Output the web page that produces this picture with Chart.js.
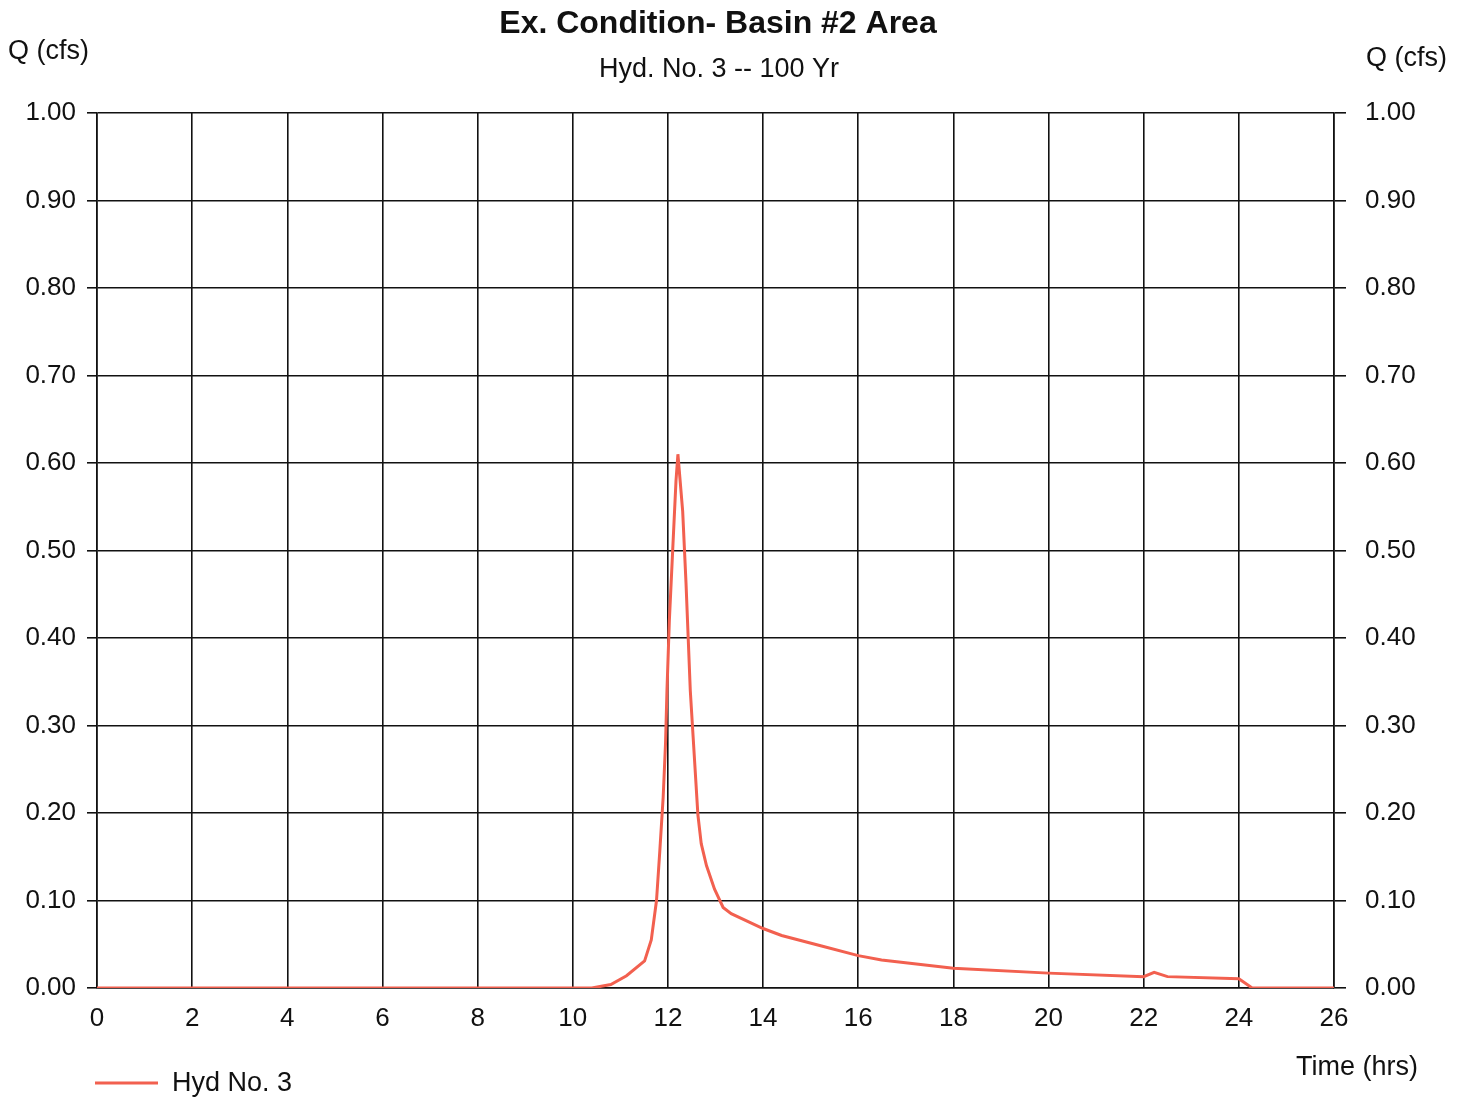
<!DOCTYPE html>
<html>
<head>
<meta charset="utf-8">
<script src="https://cdn.jsdelivr.net/npm/chart.js@4.4.0/dist/chart.umd.min.js"></script>
<style>
  html, body { margin: 0; padding: 0; background: #fff; }
  #wrap { width: 1464px; height: 1097px; position: relative; }
</style>
</head>
<body>
<div id="wrap"><canvas id="hydro"></canvas></div>
<script>
// hydrograph (hrs, cfs)
const hours = [0, 2, 4, 6, 8, 10, 10.4, 10.8, 11.13, 11.51, 11.65, 11.76, 11.83, 11.9, 11.95, 11.98,
  12.03, 12.1, 12.17, 12.21, 12.31, 12.38, 12.47, 12.56, 12.63, 12.7, 12.81, 12.98, 13.16, 13.33,
  14.0, 14.39, 15.23, 16.0, 16.49, 18.0, 20.0, 22.0, 22.22, 22.5, 24.0, 24.28, 26];
const flows = [0, 0, 0, 0, 0, 0, 0, 0.004, 0.014, 0.031, 0.055, 0.10, 0.157, 0.218, 0.28, 0.34,
  0.42, 0.50, 0.58, 0.61, 0.545, 0.463, 0.34, 0.26, 0.198, 0.165, 0.14, 0.113, 0.092, 0.085,
  0.068, 0.060, 0.048, 0.037, 0.032, 0.0225, 0.017, 0.013, 0.018, 0.013, 0.0105, 0, 0];

const xTicks = [0, 2, 4, 6, 8, 10, 12, 14, 16, 18, 20, 22, 24, 26];
const yTicks = [0, 0.1, 0.2, 0.3, 0.4, 0.5, 0.6, 0.7, 0.8, 0.9, 1.0];

const titleText = 'Ex. Condition- Basin #2 Area';
const subTitleText = 'Hyd. No. 3 -- 100 Yr';
const seriesName = 'Hyd No. 3';
const lineColor = '#f2604f';
const fontFam = '"Liberation Sans", Arial, sans-serif';

const points = hours.map((h, i) => ({ x: h, y: flows[i] }));

// texts that sit outside the normal chart.js slots
const extraText = {
  id: 'extraText',
  afterDraw(chart) {
    const c = chart.ctx;
    c.save();
    c.fillStyle = '#111';
    c.textBaseline = 'middle';
    c.textAlign = 'center';
    c.font = 'bold 32px ' + fontFam;
    c.fillText(titleText, 718, 24);
    c.font = '27px ' + fontFam;
    c.fillText(subTitleText, 719, 70);

    c.textAlign = 'left';
    c.fillText('Q (cfs)', 8, 52);
    c.fillText('Q (cfs)', 1366, 59);
    c.fillText('Time (hrs)', 1296, 1068);

    // legend
    c.strokeStyle = lineColor;
    c.lineWidth = 3;
    c.beginPath();
    c.moveTo(95, 1083);
    c.lineTo(158, 1083);
    c.stroke();
    c.fillText(seriesName, 172, 1084);
    c.restore();
  }
};

const ctx = document.getElementById('hydro').getContext('2d');
new Chart(ctx, {
  type: 'line',
  data: {
    datasets: [{
      label: seriesName,
      data: points,
      borderColor: lineColor,
      borderWidth: 3,
      pointRadius: 0,
      tension: 0,
      fill: false
    }]
  },
  options: {
    responsive: true,
    maintainAspectRatio: false,
    animation: false,
    layout: { padding: { top: 113, left: 0, right: 0, bottom: 0 } },
    plugins: {
      legend: { display: false },
      title: { display: false },
      tooltip: { enabled: false }
    },
    scales: {
      x: {
        type: 'linear',
        min: 0,
        max: 26,
        afterBuildTicks: s => { s.ticks = xTicks.map(v => ({ value: v })); },
        afterFit: s => { s.height = 109; },
        grid: { color: '#111', lineWidth: 1.6, drawTicks: false },
        border: { color: '#111', width: 1.6 },
        ticks: {
          color: '#111',
          padding: 15,
          maxRotation: 0,
          font: { family: fontFam, size: 26 },
          callback: v => String(v)
        }
      },
      y: {
        position: 'left',
        min: 0,
        max: 1,
        afterBuildTicks: s => { s.ticks = yTicks.map(v => ({ value: v })); },
        afterFit: s => { s.width = 97; },
        grid: { color: '#111', lineWidth: 1.6, tickLength: 10 },
        border: { color: '#111', width: 1.6 },
        ticks: {
          color: '#111',
          padding: 11,
          font: { family: fontFam, size: 26 },
          callback: v => v.toFixed(2)
        }
      },
      y2: {
        position: 'right',
        min: 0,
        max: 1,
        afterBuildTicks: s => { s.ticks = yTicks.map(v => ({ value: v })); },
        afterFit: s => { s.width = 130; },
        grid: { drawOnChartArea: false, color: '#111', lineWidth: 1.6, tickLength: 12 },
        border: { color: '#111', width: 1.6 },
        ticks: {
          color: '#111',
          padding: 19,
          font: { family: fontFam, size: 26 },
          callback: v => v.toFixed(2)
        }
      }
    }
  },
  plugins: [extraText]
});
</script>
</body>
</html>
